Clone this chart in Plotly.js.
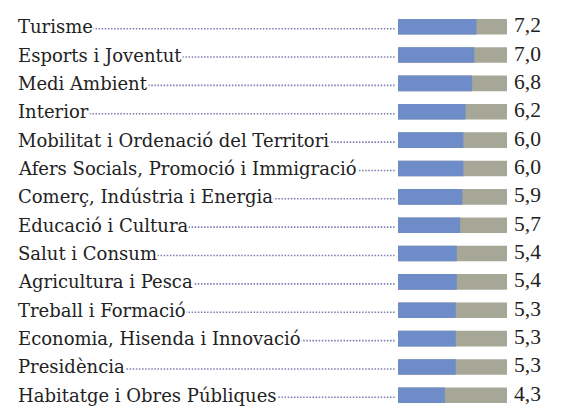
<!DOCTYPE html>
<html><head><meta charset="utf-8">
<script src="https://cdn.plot.ly/plotly-3.0.1.min.js"></script>
<style>html,body{margin:0;padding:0;background:#fff}#c{width:565px;height:406px}</style>
</head><body><div id="c"></div>
<script>
const categories = ["Turisme","Esports i Joventut","Medi Ambient","Interior","Mobilitat i Ordenació del Territori","Afers Socials, Promoció i Immigració","Comerç, Indústria i Energia","Educació i Cultura","Salut i Consum","Agricultura i Pesca","Treball i Formació","Economia, Hisenda i Innovació","Presidència","Habitatge i Obres Públiques"];
const values = [7.2,7.0,6.8,6.2,6.0,6.0,5.9,5.7,5.4,5.4,5.3,5.3,5.3,4.3];
const maxScore = 10;

const W = 565, H = 406;
const x0px = 398, x1px = 507;
const dom = [x0px/W, x1px/W];

const traces = [
  {type:'bar', orientation:'h', y:categories, x:categories.map(()=>maxScore), marker:{color:'#a7a798'}, width:0.55, hoverinfo:'skip'},
  {type:'bar', orientation:'h', y:categories, x:values, marker:{color:'#6e8cc8'}, width:0.55, hoverinfo:'skip'}
];
const shapes = categories.map((c,i)=>({type:'line', xref:'paper', yref:'y', x0:18/W, x1:(x0px-2)/W, y0:i+0.07, y1:i+0.07, line:{color:'#7c7cb2', width:1.6, dash:'1.5px,1.6px'}, layer:'below'}));
const annotations = [];
categories.forEach((c,i)=>{
  annotations.push({xref:'paper', yref:'y', x:17/W, y:c, text:c, xanchor:'left', yanchor:'middle', showarrow:false, bgcolor:'#ffffff', borderpad:0, font:{family:"DejaVu Serif", size:18, color:'#222'}, yshift:0});
  annotations.push({xref:'x', yref:'y', x:maxScore, y:c, text:values[i].toFixed(1).replace('.',','), xanchor:'left', xshift:5, yanchor:'middle', showarrow:false, font:{family:"Liberation Serif", size:21.5, color:'#222'}, yshift:1.5});
});
const layout = {
  width:W, height:H, margin:{l:0,r:0,t:0,b:0}, paper_bgcolor:'#fff', plot_bgcolor:'#fff',
  barmode:'overlay', showlegend:false,
  xaxis:{domain:dom, range:[0,maxScore], visible:false, fixedrange:true},
  yaxis:{type:'category', range:[13.377,-0.942], visible:false, fixedrange:true},
  shapes:shapes, annotations:annotations
};
Plotly.newPlot('c', traces, layout, {displayModeBar:false, staticPlot:true});
</script></body></html>
